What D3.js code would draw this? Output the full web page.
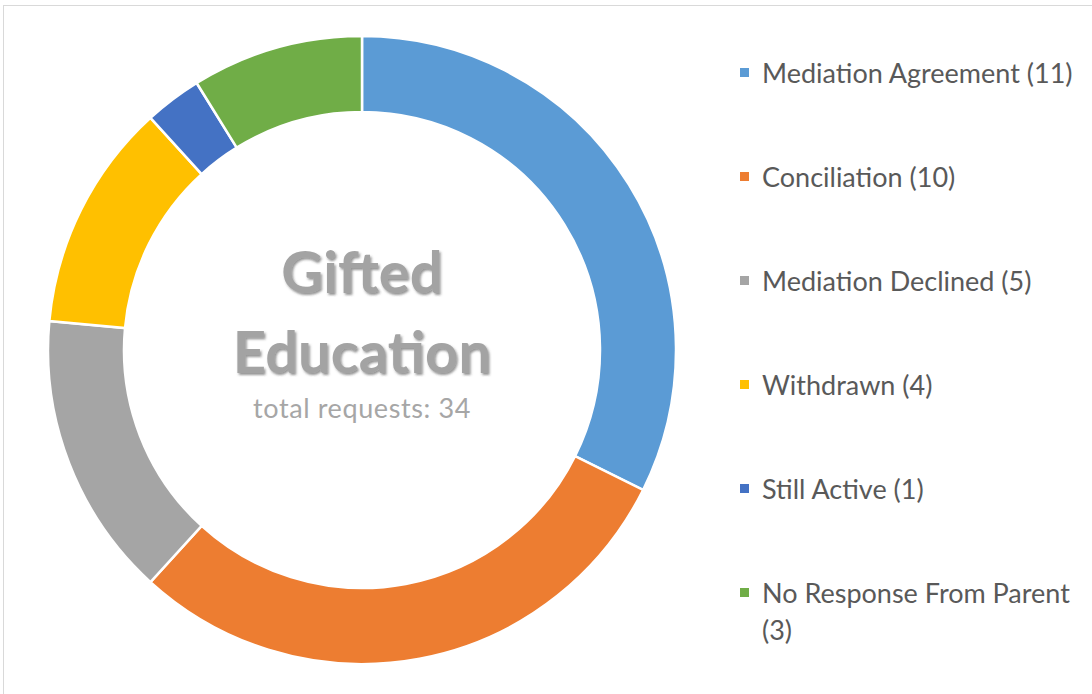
<!DOCTYPE html>
<html>
<head>
<meta charset="utf-8">
<script src="https://cdn.jsdelivr.net/npm/d3@7"></script>
<style>
  body { margin: 0; background: #fff; }
  svg { display: block; }
</style>
</head>
<body>
<div id="chart"></div>
<script>
var categories = ["Mediation Agreement", "Conciliation", "Mediation Declined", "Withdrawn", "Still Active", "No Response From Parent"];
var counts = [11, 10, 5, 4, 1, 3];
var colors = ["#5B9BD5", "#ED7D31", "#A5A5A5", "#FFC000", "#4472C4", "#70AD47"];
var titleLines = ["Gifted", "Education"];
var subtitle = "total requests: ";

var width = 1092;
var height = 694;
var cx = 362, cy = 350;
var outerR = 314, innerR = 238;

var data = categories.map((c, i) => ({ name: c, value: counts[i], color: colors[i] }));
var total = d3.sum(counts);

var svg = d3.select("#chart").append("svg")
  .attr("width", width)
  .attr("height", height);

/* chart border */
svg.append("rect")
  .attr("x", 3.5).attr("y", 5.5)
  .attr("width", width + 10).attr("height", height + 10)
  .attr("fill", "none")
  .attr("stroke", "#d9d9d9");

/* shadow for the title */
var defs = svg.append("defs");
var f = defs.append("filter").attr("id", "shadow")
  .attr("x", "-10%").attr("y", "-10%").attr("width", "120%").attr("height", "130%");
f.append("feDropShadow")
  .attr("dx", 1.5).attr("dy", 2)
  .attr("stdDeviation", 1.2)
  .attr("flood-color", "#404040")
  .attr("flood-opacity", 0.55);

/* donut */
var pie = d3.pie().sort(null).value(d => d.value);
var arc = d3.arc().innerRadius(innerR).outerRadius(outerR);

var g = svg.append("g").attr("transform", `translate(${cx}, ${cy})`);
g.selectAll("path")
  .data(pie(data)).enter()
  .append("path")
  .attr("d", arc)
  .attr("fill", d => d.data.color)
  .attr("stroke", "#fff")
  .attr("stroke-width", 2.5)
  .attr("stroke-linejoin", "miter");

/* centre text */
var font = "Lato, 'Open Sans', sans-serif";
g.selectAll(".title")
  .data(titleLines).enter()
  .append("text")
  .attr("class", "title")
  .attr("text-anchor", "middle")
  .attr("x", 0)
  .attr("y", (d, i) => i === 0 ? -57 : 23)
  .attr("font-family", font)
  .attr("font-weight", 700)
  .attr("font-size", "58px")
  .attr("fill", "#A3A3A3")
  .attr("filter", "url(#shadow)")
  .text(d => d);

g.append("text")
  .attr("text-anchor", "middle")
  .attr("x", 0).attr("y", 68)
  .attr("font-family", font)
  .attr("font-size", "27px")
  .attr("letter-spacing", "0.6px")
  .attr("fill", "#A6A6A6")
  .text(subtitle + total);

/* legend */
var legendX = 740, legendY0 = 73, rowStep = 104, maxTextW = 325;
var legend = svg.append("g").attr("class", "legend");
var rows = legend.selectAll("g")
  .data(data).enter()
  .append("g")
  .attr("transform", (d, i) => `translate(${legendX}, ${legendY0 + i * rowStep})`);

rows.append("rect")
  .attr("x", 0).attr("y", -5)
  .attr("width", 9).attr("height", 9)
  .attr("fill", d => d.color);

rows.append("text")
  .attr("x", 22)
  .attr("y", 10)
  .attr("font-family", font)
  .attr("font-size", "27px")
  .attr("fill", "#595959")
  .each(function(d) {
    var t = d3.select(this);
    var words = (d.name + " (" + d.value + ")").split(" ");
    var line = [];
    var tspan = t.append("tspan").attr("x", 22).attr("dy", 0);
    words.forEach(function(w) {
      line.push(w);
      tspan.text(line.join(" "));
      if (tspan.node().getComputedTextLength() > maxTextW && line.length > 1) {
        line.pop();
        tspan.text(line.join(" "));
        line = [w];
        tspan = t.append("tspan").attr("x", 22).attr("dy", 37).text(w);
      }
    });
  });
</script>
</body>
</html>
